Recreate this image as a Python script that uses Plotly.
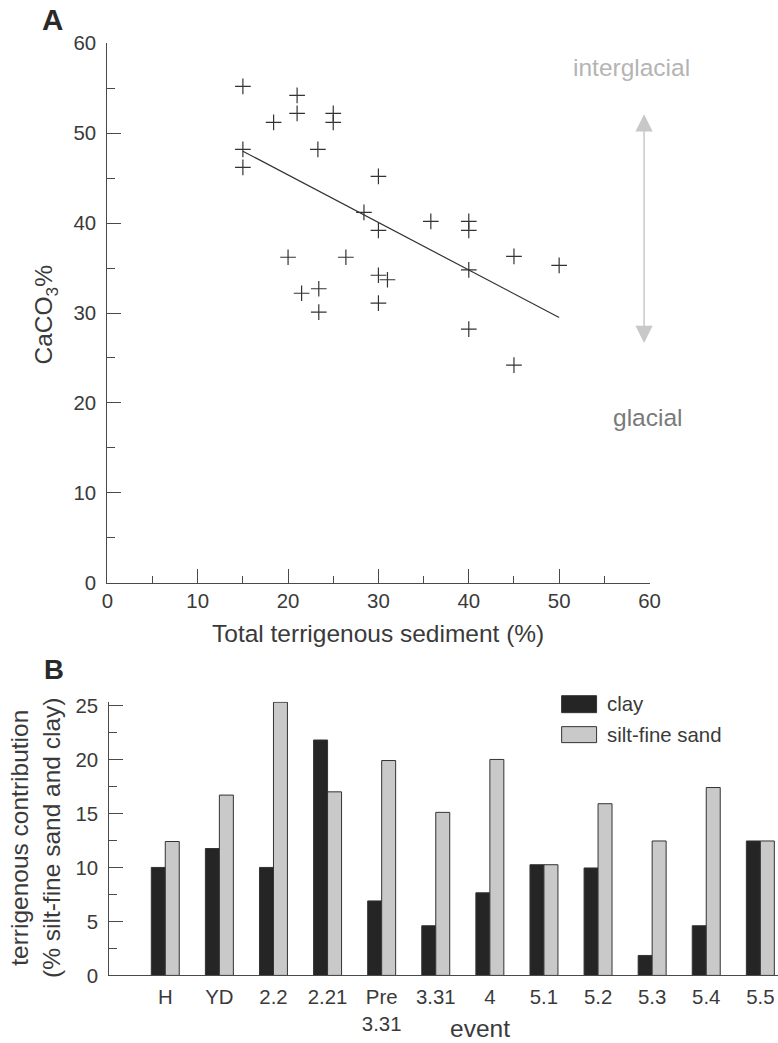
import plotly.graph_objects as go

# ---------------- Panel A data ----------------
terr_x = [15, 15, 15, 18.4, 21, 21, 25, 25, 23.3, 30, 28.4, 30, 35.8, 40, 40,
          20, 26.4, 30, 31, 23.4, 21.5, 23.4, 30, 40, 45, 50, 40, 45]
caco3_y = [55.2, 48.2, 46.2, 51.2, 54.2, 52.2, 52.2, 51.2, 48.2, 45.2, 41.2, 39.2, 40.2, 40.2, 39.2,
           36.2, 36.2, 34.2, 33.7, 32.7, 32.2, 30.1, 31.1, 34.8, 36.3, 35.3, 28.2, 24.2]
fit_x = [15, 50]
fit_y = [48.0, 29.5]
arrow_x = 59.4
arrow_y = [26.5, 52.1]
a_ticks = [0, 10, 20, 30, 40, 50, 60]

# ---------------- Panel B data ----------------
events = ["H", "YD", "2.2", "2.21", "Pre<br>3.31", "3.31", "4", "5.1", "5.2", "5.3", "5.4", "5.5"]
clay = [10.0, 11.75, 10.0, 21.8, 6.9, 4.6, 7.65, 10.25, 9.95, 1.85, 4.6, 12.45]
silt = [12.4, 16.7, 25.3, 17.0, 19.9, 15.1, 20.0, 10.25, 15.9, 12.45, 17.4, 12.45]
b_ticks = [0, 5, 10, 15, 20, 25]

# page -> figure mapping (observed rendering: shown = S * figure_px + offset)
S = 0.98
OX, OY = 4.5, 10.7
W, H = 790, 1053
FONT = "Liberation Sans, Arial, sans-serif"
TXT = "#3a3a3a"
AX = "#4a4a4a"


def px(x):
    return ((x - OX) / S) / W


def py(y):
    return 1 - ((y - OY) / S) / H


def fs(v):
    return round(v / S, 1)


fig = go.Figure()

fig.add_trace(go.Scatter(
    x=terr_x, y=caco3_y, mode="markers",
    marker=dict(symbol="cross-thin", size=fs(11), line=dict(width=1.2, color="#333333")),
    xaxis="x", yaxis="y", showlegend=False, hoverinfo="x+y"))
fig.add_trace(go.Scatter(
    x=fit_x, y=fit_y, mode="lines", line=dict(color="#333333", width=1.2),
    xaxis="x", yaxis="y", showlegend=False))

fig.add_trace(go.Bar(
    x=events, y=clay, name="clay", marker=dict(color="#252525", line=dict(color="#333333", width=1)),
    xaxis="x2", yaxis="y2", showlegend=False))
fig.add_trace(go.Bar(
    x=events, y=silt, name="silt-fine sand", marker=dict(color="#c9c9c9", line=dict(color="#333333", width=1)),
    xaxis="x2", yaxis="y2", showlegend=False))

axcommon = dict(showline=True, linecolor=AX, linewidth=1.3, showgrid=False, zeroline=False,
                tickfont=dict(size=fs(20), color=TXT, family=FONT), tickcolor=AX)
minor_a = dict(dtick=5, ticks="inside", ticklen=fs(7), tickcolor=AX, tickwidth=1.3)

fig.update_layout(
    width=W, height=H, margin=dict(l=0, r=0, t=0, b=0),
    plot_bgcolor="white", paper_bgcolor="white",
    font=dict(family=FONT, color=TXT),
    barmode="group", bargap=0.483, bargroupgap=0,
    xaxis=dict(domain=[px(106), px(649)], range=[0, 60], anchor="y",
               tickvals=a_ticks, ticks="inside", ticklen=fs(13), tickwidth=1.3,
               minor=minor_a, ticklabelstandoff=0, **axcommon),
    yaxis=dict(domain=[py(583), py(43)], range=[0, 60], anchor="x",
               tickvals=a_ticks, ticks="inside", ticklen=fs(13), tickwidth=1.3,
               minor=minor_a, ticklabelstandoff=6, **axcommon),
    xaxis2=dict(domain=[px(108), px(778)], range=[-1.034, 11.332], anchor="y2",
                type="category", ticks="", ticklabelstandoff=3, **axcommon),
    yaxis2=dict(domain=[py(976), py(702)], range=[0, 25.35], anchor="x2",
                tickvals=b_ticks, ticks="inside", ticklen=fs(13), tickwidth=1.3,
                minor=dict(dtick=2.5, ticks="inside", ticklen=fs(7), tickcolor=AX, tickwidth=1.3),
                ticklabelstandoff=6, **axcommon),
)


def text_ann(text, x, y, size, color=TXT, angle=0, xanchor="center"):
    return dict(text=text, x=px(x), y=py(y), xref="paper", yref="paper", xanchor=xanchor,
                yanchor="middle", textangle=angle, showarrow=False,
                font=dict(size=fs(size), color=color, family=FONT))


ann = [
    text_ann("<b>A</b>", 51, 19, 29, "#2a2a2a"),
    text_ann("<b>B</b>", 53, 670, 27, "#2a2a2a"),
    text_ann("Total terrigenous sediment (%)", 377, 634, 24),
    text_ann("CaCO<sub>3</sub>%", 44, 315, 24, angle=-90),
    text_ann("interglacial", 631, 67, 24, "#b4b4b4"),
    text_ann("glacial", 647, 418, 24, "#7a7a7a"),
    text_ann("terrigenous contribution<br>(% silt-fine sand and clay)", 34, 838, 24, angle=-90),
    text_ann("event", 479, 1029, 24),
    text_ann("clay", 604, 704, 20, xanchor="left"),
    text_ann("silt-fine sand", 604, 735, 20, xanchor="left"),
    dict(x=arrow_x, y=arrow_y[1], ax=arrow_x, ay=arrow_y[0], xref="x", yref="y",
         axref="x", ayref="y", showarrow=True, arrowhead=2, startarrowhead=2,
         arrowside="end+start", arrowsize=2.3, startarrowsize=2.3, arrowwidth=1.5,
         arrowcolor="#c8c8c8", text=""),
]
fig.update_layout(annotations=ann)

fig.update_layout(shapes=[
    dict(type="rect", xref="paper", yref="paper", x0=px(561), x1=px(596), y0=py(713), y1=py(696),
         fillcolor="#252525", line=dict(color="#333333", width=1)),
    dict(type="rect", xref="paper", yref="paper", x0=px(561), x1=px(596), y0=py(743), y1=py(727),
         fillcolor="#c9c9c9", line=dict(color="#333333", width=1)),
])

fig.write_html("out.html")
